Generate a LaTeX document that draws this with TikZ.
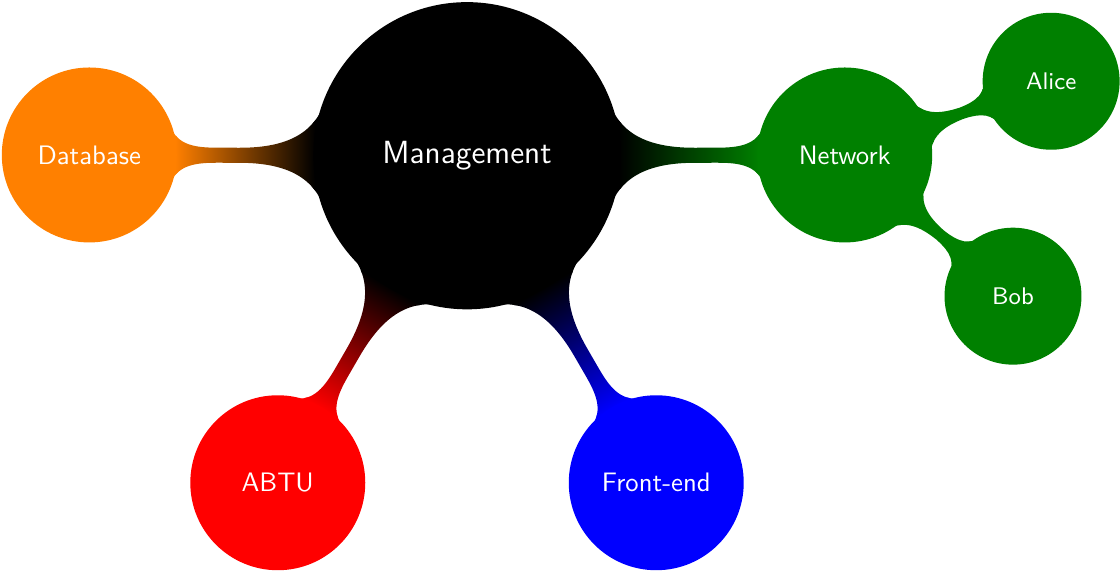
\documentclass[tikz,border=0pt]{standalone}
\usetikzlibrary{mindmap,backgrounds}
\definecolor{netgreen}{rgb}{0,0.5,0}
\begin{document}
\begin{tikzpicture}[mindmap, text=white,
  rootc/.style={concept, concept color=black, minimum size=4cm, text width=2.6cm, inner sep=0pt, align=center, font=\sffamily\large},
  lvlone/.style={concept, concept color=#1, minimum size=2.26cm, text width=1.6cm, inner sep=0pt, align=center, font=\sffamily},
  lvltwo/.style={concept, concept color=#1, minimum size=1.76cm, text width=1.1cm, inner sep=0pt, align=center, font=\sffamily\small},
  barone/.style={line width=6.7pt},
  bartwo/.style={line width=4.5pt}]
\useasboundingbox (-6.145,-5.461) rectangle (8.592,2.039);
\node[rootc] (m) at (0,-0.01) {Management};
\node[lvlone=netgreen] (n) at (0:4.97) {Network};
\node[lvlone=blue] (f) at (-60:4.98) {Front-end};
\node[lvlone=red] (r) at (-120:4.98) {ABTU};
\node[lvlone=orange] (d) at (180:4.97) {Database};
\node[lvltwo=netgreen] (a) at (7.686,0.97) {Alice};
\node[lvltwo=netgreen] (b) at (7.184,-1.858) {Bob};
\begin{pgfonlayer}{background}
\path[barone] (m) to[circle connection bar switch color=from (black) to (netgreen)] (n);
\path[barone] (m) to[circle connection bar switch color=from (black) to (blue)] (f);
\path[barone] (m) to[circle connection bar switch color=from (black) to (red)] (r);
\path[barone] (m) to[circle connection bar switch color=from (black) to (orange)] (d);
\path[bartwo] (n) to[circle connection bar switch color=from (netgreen) to (netgreen)] (a);
\path[bartwo] (n) to[circle connection bar switch color=from (netgreen) to (netgreen)] (b);
\end{pgfonlayer}
\end{tikzpicture}
\end{document}
